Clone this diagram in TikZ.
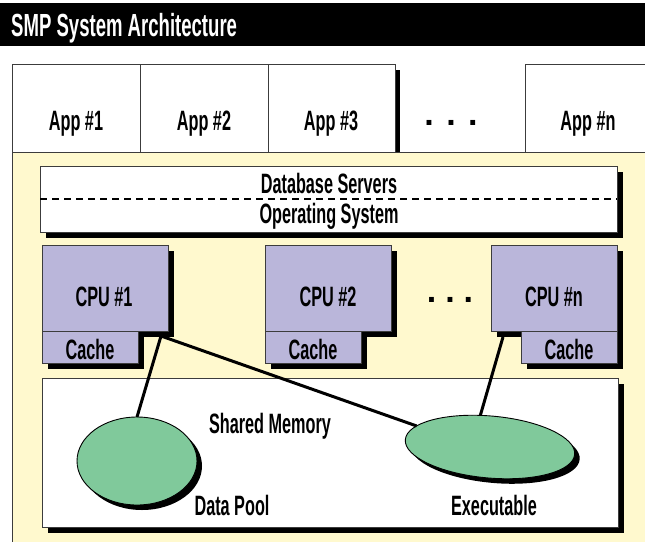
\documentclass[tikz,border=0pt]{standalone}
\usepackage{fontspec}
\newfontfamily\lblfont[FakeStretch=0.58]{Liberation Sans}
\newfontfamily\dotfont{Liberation Sans}
\usetikzlibrary{shapes.geometric}

\definecolor{panelyellow}{RGB}{255,249,206}
\definecolor{cpupurple}{RGB}{186,182,218}
\definecolor{poolgreen}{RGB}{128,201,155}
\definecolor{edgegray}{RGB}{60,60,60}

\begin{document}
\begin{tikzpicture}[x=1pt,y=-1pt,
  lbl/.style={font=\lblfont\bfseries\fontsize{28}{30}\selectfont, text height=20pt, text depth=0pt, inner sep=0pt},
  dots/.style={font=\dotfont\bfseries\fontsize{34}{36}\selectfont, anchor=base, inner sep=0pt},
  box/.style={draw=edgegray, line width=0.9pt, anchor=north west, inner sep=0pt, outer sep=0pt},
  shadowbox/.style={box, preaction={fill=black, transform canvas={xshift=6pt,yshift=-6pt}}},
  appbox/.style={box, fill=white, minimum height=88pt},
  cpubox/.style={shadowbox, fill=cpupurple, minimum width=126pt, minimum height=86pt},
  cachebox/.style={shadowbox, fill=cpupurple, minimum width=96pt, minimum height=32pt},
  pool/.style={ellipse, draw=black, line width=0.9pt, fill=poolgreen, inner sep=0pt, outer sep=0pt,
     preaction={fill=black, transform canvas={xshift=5pt,yshift=-5pt}}},
  link/.style={line width=3pt, black}
]
\useasboundingbox (0,0) rectangle (645,541);

% title bar
\fill[black] (0,3) rectangle (645,46);
\node[anchor=base west, inner sep=0pt, text=white, font=\lblfont\bfseries\fontsize{32}{34}\selectfont] (title) at (11,36) {SMP System Architecture};

% application boxes
\node[appbox, minimum width=128pt] (app1) at (12,64) {};
\node[appbox, minimum width=128pt] (app2) at (140,64) {};
\node[appbox, minimum width=127pt, preaction={fill=black, transform canvas={xshift=5pt,yshift=-6pt}}] (app3) at (268,64) {};
\node[appbox, minimum width=140pt] (appn) at (525,64) {};

% yellow panel
\fill[panelyellow] (12,152) rectangle (660,560);
\draw[edgegray, line width=0.9pt] (12,560) -- (12,152) -- (660,152);

% database / OS layer
\node[shadowbox, fill=white, minimum width=577pt, minimum height=66pt] (db) at (40,166) {};
\draw[line width=1.6pt, dash pattern=on 7pt off 5pt] (db.west) -- (db.east);

% CPUs
\node[cpubox] (cpu1) at (42,245) {};
\node[cachebox] (cache1) at (42,331) {};
\node[cpubox] (cpu2) at (265,245) {};
\node[cachebox] (cache2) at (265,331) {};
\node[cpubox] (cpun) at (491,245) {};
\node[cachebox] (cachen) at (521,331) {};

% shared memory
\node[shadowbox, fill=white, minimum width=576pt, minimum height=149pt] (shm) at (42,378) {};

% pools and connectors
\node[pool, minimum width=120pt, minimum height=88pt] (dp) at (137,461) {};
\node[pool, minimum width=170pt, minimum height=62pt, rotate=-5] (ex) at (490,447) {};
\coordinate (port1) at (161,336);
\coordinate (portn) at (503,337);
\draw[link] (port1) -- (dp.north);
\draw[link] (port1) -- (ex.169);
\draw[link] (portn) -- (ex.112);

% labels
\node[lbl] (t1) at (76,120) {App \#1};
\node[lbl] (t2) at (204,120) {App \#2};
\node[lbl] (t3) at (331,120) {App \#3};
\node[dots] (d1) at (451,125) {.\hspace{12.5pt}.\hspace{12.5pt}.};
\node[lbl] (tn) at (588,120) {App \#n};
\node[lbl] (tdb) at (329,183) {Database Servers};
\node[lbl] (tos) at (329,213) {Operating System};
\node[lbl] (tc1) at (104,296) {CPU \#1};
\node[lbl] (tc2) at (328,296) {CPU \#2};
\node[dots] (d2) at (450,302.5) {.\hspace{9pt}.\hspace{9pt}.};
\node[lbl] (tcn) at (554,296) {CPU \#n};
\node[lbl] (tk1) at (90,349) {Cache};
\node[lbl] (tk2) at (313,349) {Cache};
\node[lbl] (tkn) at (569,349) {Cache};
\node[lbl] (tshm) at (270,423) {Shared Memory};
\node[lbl] (tdp) at (232,505) {Data Pool};
\node[lbl] (tex) at (494,505) {Executable};
\end{tikzpicture}
\end{document}
